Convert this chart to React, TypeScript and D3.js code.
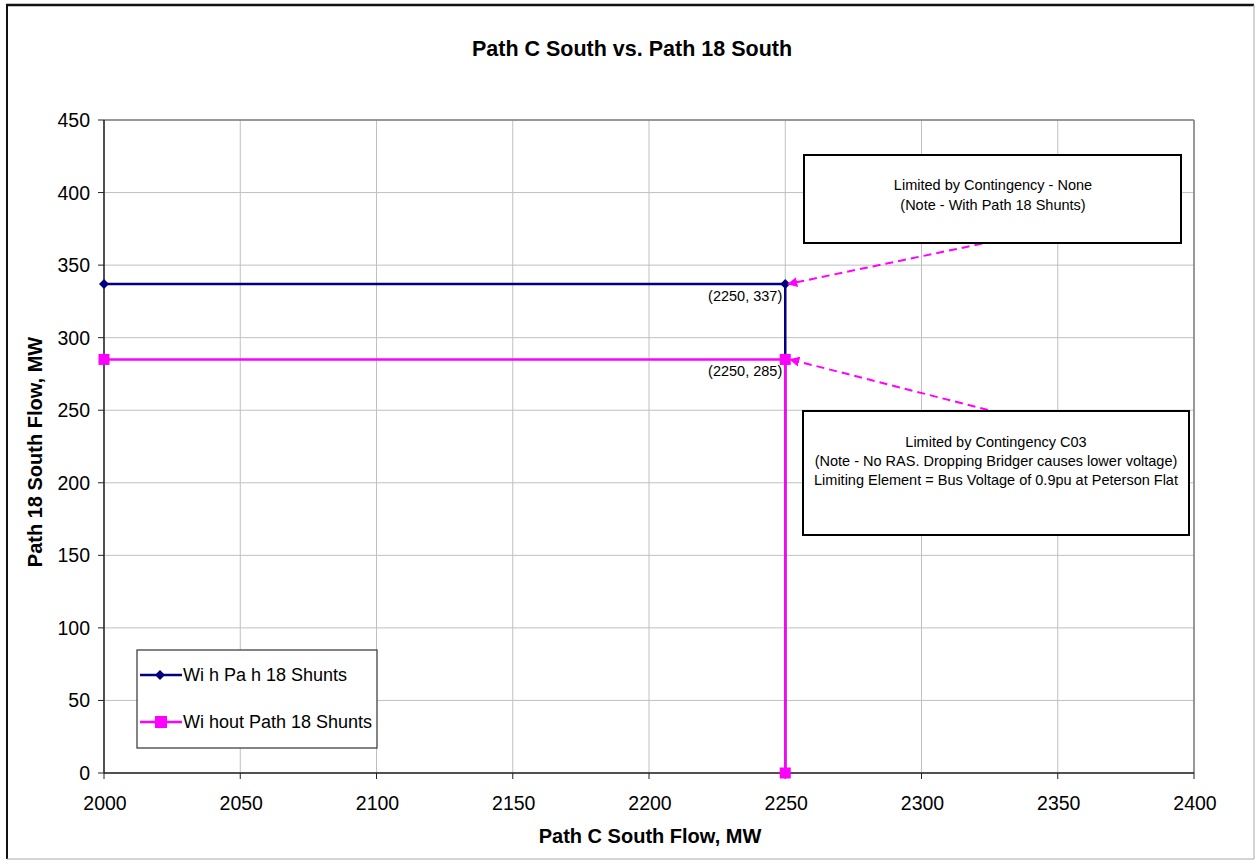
import React from "react";
import * as d3 from "d3";

const xTicks = [2000, 2050, 2100, 2150, 2200, 2250, 2300, 2350, 2400];
const yTicks = [0, 50, 100, 150, 200, 250, 300, 350, 400, 450];
const withX = [2000, 2250, 2250];
const withY = [337, 337, 0];
const withoutX = [2000, 2250, 2250];
const withoutY = [285, 285, 0];
const seriesNames = ["Wi h Pa h 18 Shunts", "Wi hout Path 18 Shunts"];
const pointLabels = [
  { x: 2250, y: 337, text: "(2250, 337)" },
  { x: 2250, y: 285, text: "(2250, 285)" },
];
const note1 = ["Limited by Contingency - None", "(Note - With Path 18 Shunts)"];
const note2 = [
  "Limited by Contingency C03",
  "(Note - No RAS. Dropping Bridger causes lower voltage)",
  "Limiting Element = Bus Voltage of 0.9pu at Peterson Flat",
];

const NAVY = "#000080";
const MAG = "#FF00FF";
const FONT = "Liberation Sans, Arial, sans-serif";

export default function App() {
  const W = 1255, H = 861;
  const x = d3.scaleLinear().domain([2000, 2400]).range([104, 1194]);
  const y = d3.scaleLinear().domain([0, 450]).range([773, 120]);
  const line = d3.line<[number, number]>().x(d => x(d[0])).y(d => y(d[1]));
  const withPts: [number, number][] = withX.map((v, i) => [v, withY[i]]);
  const withoutPts: [number, number][] = withoutX.map((v, i) => [v, withoutY[i]]);
  const diamond = (cx: number, cy: number, r = 5) =>
    `M${cx},${cy - r}L${cx + r},${cy}L${cx},${cy + r}L${cx - r},${cy}Z`;

  return (
    <svg width={W} height={H} style={{ position: "absolute", left: 0, top: 0, fontFamily: FONT }}>
      <defs>
        <marker id="ah" viewBox="0 0 10 10" refX="9" refY="5" markerWidth="5" markerHeight="5" orient="auto">
          <path d="M0,0L10,5L0,10Z" fill={MAG} />
        </marker>
      </defs>
      <rect x={0} y={0} width={W} height={H} fill="white" />
      {/* outer frame */}
      <line x1={7} y1={5} x2={7} y2={859} stroke="#111" strokeWidth={2} />
      <line x1={6} y1={5} x2={1254} y2={5} stroke="#111" strokeWidth={2.5} />
      <line x1={1254} y1={5} x2={1254} y2={859} stroke="#aaa" strokeWidth={1} />
      <line x1={7} y1={859} x2={1254} y2={859} stroke="#aaa" strokeWidth={1} />

      <text x={632} y={56} textAnchor="middle" fontSize={21.5} fontWeight="bold">Path C South vs. Path 18 South</text>

      {/* gridlines */}
      {xTicks.map(t => (
        <line key={"gx" + t} x1={x(t)} x2={x(t)} y1={120} y2={773} stroke="#c0c0c0" strokeWidth={1} />
      ))}
      {yTicks.map(t => (
        <line key={"gy" + t} x1={104} x2={1194} y1={y(t)} y2={y(t)} stroke="#c0c0c0" strokeWidth={1} />
      ))}
      <line x1={104} x2={1194} y1={120} y2={120} stroke="#808080" strokeWidth={1.5} />
      <line x1={1194} x2={1194} y1={120} y2={773} stroke="#808080" strokeWidth={1.5} />
      {/* axes */}
      <line x1={104} x2={104} y1={120} y2={773} stroke="#222" strokeWidth={1.5} />
      <line x1={104} x2={1194} y1={773} y2={773} stroke="#222" strokeWidth={1.5} />
      {yTicks.map(t => (
        <g key={"ty" + t}>
          <line x1={98} x2={104} y1={y(t)} y2={y(t)} stroke="#222" strokeWidth={1} />
          <text x={90} y={y(t) + 7} textAnchor="end" fontSize={19.5}>{t}</text>
        </g>
      ))}
      {xTicks.map(t => (
        <g key={"tx" + t}>
          <line x1={x(t)} x2={x(t)} y1={773} y2={779} stroke="#222" strokeWidth={1} />
          <text x={x(t) + 1} y={810} textAnchor="middle" fontSize={19.5}>{t}</text>
        </g>
      ))}
      <text x={650} y={843} textAnchor="middle" fontSize={20} fontWeight="bold">Path C South Flow, MW</text>
      <text transform={`translate(42,452) rotate(-90)`} textAnchor="middle" fontSize={20} fontWeight="bold">Path 18 South Flow, MW</text>

      {/* series */}
      <path d={line(withPts) || ""} fill="none" stroke={NAVY} strokeWidth={2.5} />
      {withPts.slice(0, 2).map((p, i) => (
        <path key={"d" + i} d={diamond(x(p[0]), y(p[1]))} fill={NAVY} />
      ))}
      <path d={line(withoutPts) || ""} fill="none" stroke={MAG} strokeWidth={2.5} />
      {withoutPts.map((p, i) => (
        <rect key={"s" + i} x={x(p[0]) - 5.5} y={y(p[1]) - 5.5} width={11} height={11} fill={MAG} />
      ))}
      {pointLabels.map((l, i) => (
        <text key={"pl" + i} x={x(l.x) - 3} y={y(l.y) + 17} textAnchor="end" fontSize={14.5}>{l.text}</text>
      ))}

      {/* arrows */}
      <line x1={995} y1={241} x2={x(2250) + 3} y2={y(337)} stroke={MAG} strokeWidth={2} strokeDasharray="8,5" markerEnd="url(#ah)" />
      <line x1={988} y1={410} x2={x(2250) + 5} y2={y(285)} stroke={MAG} strokeWidth={2} strokeDasharray="8,5" markerEnd="url(#ah)" />

      {/* annotation boxes */}
      <rect x={804} y={155} width={377} height={88} fill="white" stroke="#000" strokeWidth={2} />
      {note1.map((t, i) => (
        <text key={"n1" + i} x={993} y={190 + i * 20} textAnchor="middle" fontSize={14.5}>{t}</text>
      ))}
      <rect x={803} y={411} width={386} height={124} fill="white" stroke="#000" strokeWidth={2} />
      {note2.map((t, i) => (
        <text key={"n2" + i} x={996} y={447 + i * 19} textAnchor="middle" fontSize={14.5}>{t}</text>
      ))}

      {/* legend */}
      <rect x={137} y={650} width={240} height={98} fill="white" stroke="#333" strokeWidth={1.2} />
      <line x1={140} x2={182} y1={675} y2={675} stroke={NAVY} strokeWidth={2.5} />
      <path d={diamond(160, 675)} fill={NAVY} />
      <text x={183} y={681} fontSize={18}>{seriesNames[0]}</text>
      <line x1={140} x2={182} y1={722} y2={722} stroke={MAG} strokeWidth={2.5} />
      <rect x={155} y={716} width={12} height={12} fill={MAG} />
      <text x={183} y={728} fontSize={18}>{seriesNames[1]}</text>
    </svg>
  );
}
